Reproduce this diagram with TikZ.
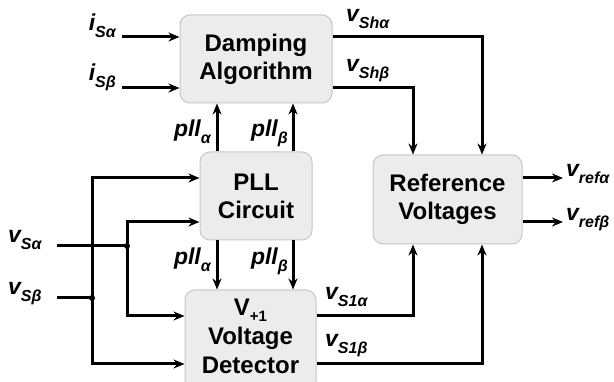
\documentclass[tikz,border=0pt]{standalone}
\usepackage{fontspec}
\setmainfont{Liberation Sans}
\usetikzlibrary{positioning,arrows.meta}

\newcommand{\sig}[2]{{\bfseries\itshape\fontsize{23}{23}\selectfont #1\raisebox{-7pt}{\fontsize{16}{16}\selectfont #2}}}

\begin{document}
\begin{tikzpicture}[
  x=1pt, y=-1pt,
  box/.style={draw=gray!45, fill=gray!15, line width=1pt, rounded corners=10pt, font=\bfseries\fontsize{24}{28}\selectfont, align=center, inner sep=0pt},
  arrow/.style={-{Stealth[length=11pt, width=9pt]}, line width=3pt},
  wire/.style={line width=3pt},
  lbl/.style={inner sep=0pt}
]
  \useasboundingbox (0,0) rectangle (614,382);
  % blocks
  \node[box, minimum width=152pt, minimum height=88pt] (damp) at (256,59) {Damping\\Algorithm};
  \node[box, minimum width=112pt, minimum height=88pt] (pll) at (256,196) {PLL\\Circuit};
  \node[box, minimum width=131pt, minimum height=102pt, text depth=10pt, font=\bfseries\fontsize{24}{29}\selectfont] (det) at (250.5,341)
    {V\raisebox{-6pt}{\fontsize{15}{15}\selectfont +1}\\Voltage\\Detector};
  \node[box, minimum width=149pt, minimum height=89pt] (ref) at (447.5,199.5) {Reference\\Voltages};

  % free ends and junctions
  \coordinate (iSa) at (122,37);
  \coordinate (iSb) at (122,88);
  \coordinate (vSa) at (57,246);
  \coordinate (vSb) at (57,298);
  \coordinate (jA) at (127,246);
  \coordinate (jB) at (92,298);
  \coordinate (refA) at (563,178);
  \coordinate (refB) at (563,222);

  % labels
  \node[lbl, anchor=base east] (liSa) at (116,31) {\sig{i}{Sα}};
  \node[lbl, anchor=base east] (liSb) at (116,81) {\sig{i}{Sβ}};
  \node[lbl, anchor=base west] (lvSa) at (8,243) {\sig{v}{Sα}};
  \node[lbl, anchor=base west] (lvSb) at (8,295) {\sig{v}{Sβ}};
  \node[lbl, anchor=base west] (lvSha) at (346,22) {\sig{v}{Shα}};
  \node[lbl, anchor=base west] (lvShb) at (346,72) {\sig{v}{Shβ}};
  \node[lbl, anchor=base east] (lpa1) at (211,137) {\sig{pll}{α}};
  \node[lbl, anchor=base east] (lpb1) at (288,137) {\sig{pll}{β}};
  \node[lbl, anchor=base east] (lpa2) at (211,265) {\sig{pll}{α}};
  \node[lbl, anchor=base east] (lpb2) at (288,265) {\sig{pll}{β}};
  \node[lbl, anchor=base west] (lrefa) at (566,177) {\sig{v}{refα}};
  \node[lbl, anchor=base west] (lrefb) at (566,221) {\sig{v}{refβ}};
  \node[lbl, anchor=base west] (lvS1a) at (325,300) {\sig{v}{S1α}};
  \node[lbl, anchor=base west] (lvS1b) at (325,347) {\sig{v}{S1β}};

  % current inputs
  \draw[arrow] (iSa) -- (damp.west |- iSa);
  \draw[arrow] (iSb) -- (damp.west |- iSb);

  % pll signals
  \draw[arrow] ([xshift=-39pt]pll.north) -- ([xshift=-39pt]pll.north |- damp.south);
  \draw[arrow] ([xshift=37pt]pll.north) -- ([xshift=37pt]pll.north |- damp.south);
  \draw[arrow] ([xshift=-39pt]pll.south) -- ([xshift=-39pt]pll.south |- det.north);
  \draw[arrow] ([xshift=37pt]pll.south) -- ([xshift=37pt]pll.south |- det.north);

  % voltage inputs
  \draw[wire] (vSa) -- (jA);
  \draw[arrow] (jA) |- ([yshift=-26pt]pll.west);
  \draw[arrow] (jA) |- ([yshift=25pt]det.west);
  \draw[wire] (vSb) -- (jB);
  \draw[arrow] (jB) |- ([yshift=18pt]pll.west);
  \draw[arrow] (jB) |- ([yshift=-23pt]det.west);
  \fill (jA) circle (3pt);
  \fill (jB) circle (3pt);

  % to reference block
  \draw[arrow] ([yshift=22pt]damp.east) -| ([xshift=34.5pt]ref.north);
  \draw[arrow] ([yshift=-29pt]damp.east) -| ([xshift=-34.5pt]ref.north);
  \draw[arrow] ([yshift=25pt]det.east) -| ([xshift=-34.5pt]ref.south);
  \draw[arrow] ([yshift=-23pt]det.east) -| ([xshift=34.5pt]ref.south);

  % outputs
  \draw[arrow] (ref.east |- refA) -- (refA);
  \draw[arrow] (ref.east |- refB) -- (refB);
\end{tikzpicture}
\end{document}
